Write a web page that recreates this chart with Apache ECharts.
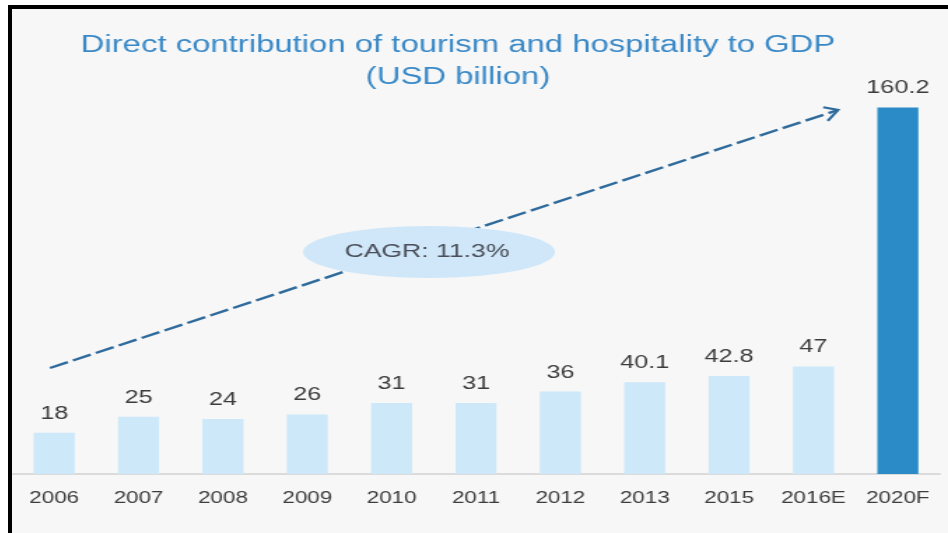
<!DOCTYPE html>
<html>
<head>
<meta charset="utf-8">
<script src="https://cdn.jsdelivr.net/npm/echarts@6/dist/echarts.min.js"></script>
<style>
  html, body { margin: 0; padding: 0; background: #ffffff; overflow: hidden; }
  #frame {
    position: absolute; left: 8px; top: 5px;
    width: 936px; height: 524px;
    border-left: 4px solid #000; border-top: 4px solid #000;
    background: #f7f7f7; overflow: hidden;
  }
  /* the slide artwork uses wide lettering: draw narrower, then widen */
  #chart { width: 669px; height: 524px; transform-origin: 0 0; }
</style>
</head>
<body>
<div id="frame"><div id="chart"></div></div>
<script>
// Direct contribution of tourism and hospitality to GDP, USD billion
var years = ['2006', '2007', '2008', '2009', '2010', '2011', '2012', '2013', '2015', '2016E', '2020F'];
var gdpContribution = [18, 25, 24, 26, 31, 31, 36, 40.1, 42.8, 47, 160.2];
var cagrText = 'CAGR: 11.3%';
var titleLines = ['Direct contribution of tourism and hospitality to GDP', '(USD billion)'];

var LIGHT = '#cce8f9';
var DARK = '#2a8bc6';
var FONT = '"Liberation Sans", Arial, sans-serif';

var FRAME_W = 936;
var CHART_W = 669;
var S = FRAME_W / CHART_W;           // horizontal widening factor
document.getElementById('chart').style.transform = 'scaleX(' + S + ')';

// frame-space x (px from frame's inner left edge) -> chart-space x
function cx(x) { return x / S; }

var chart = echarts.init(document.getElementById('chart'));

var barData = gdpContribution.map(function (v, i) {
  return {
    value: v,
    itemStyle: { color: i === gdpContribution.length - 1 ? DARK : LIGHT }
  };
});

// growth arrow (frame space), dashed shaft plus open head
var a0 = [38, 359], a1 = [826, 101];
var ang = Math.atan2(a1[1] - a0[1], a1[0] - a0[0]);
var headLen = 15, headSpread = 0.5;
var headFrame = [
  [a1[0] - headLen * Math.cos(ang - headSpread), a1[1] - headLen * Math.sin(ang - headSpread)],
  a1,
  [a1[0] - headLen * Math.cos(ang + headSpread), a1[1] - headLen * Math.sin(ang + headSpread)]
];
function toChart(p) { return [cx(p[0]), p[1]]; }

chart.setOption({
  backgroundColor: 'transparent',
  animation: false,
  grid: { left: 0, right: cx(8), top: 76, bottom: 59, containLabel: false },
  xAxis: {
    type: 'category',
    data: years,
    axisLine: { show: true, lineStyle: { color: '#d2d2d2', width: 1.5 } },
    axisTick: { show: false },
    axisLabel: { color: '#3c3c3c', fontSize: 16, fontFamily: FONT, margin: 17, interval: 0 }
  },
  yAxis: {
    type: 'value', min: 0, max: 170, show: false,
    splitLine: { show: false }
  },
  graphic: [
    {
      type: 'text', z: 10,
      x: cx(446), y: 21,
      style: {
        text: titleLines.join('\n'),
        fill: '#3a89c7', font: '23.5px ' + FONT,
        textAlign: 'center', textVerticalAlign: 'top', lineHeight: 32
      }
    },
    {
      type: 'polyline', z: 5,
      shape: { points: [toChart(a0), toChart(a1)] },
      style: { stroke: '#2e6a9b', lineWidth: 2.4, lineDash: [14, 4], fill: null }
    },
    {
      type: 'polyline', z: 5,
      shape: { points: headFrame.map(toChart) },
      style: { stroke: '#2e6a9b', lineWidth: 2.2, fill: null }
    },
    {
      type: 'ellipse', z: 6,
      shape: { cx: cx(417), cy: 243, rx: cx(126), ry: 26 },
      style: { fill: '#cfe7f8' }
    },
    {
      type: 'text', z: 7,
      x: cx(415), y: 243,
      style: {
        text: cagrText, fill: '#4a4e5a', font: '19px ' + FONT,
        textAlign: 'center', textVerticalAlign: 'middle'
      }
    }
  ],
  series: [{
    type: 'bar',
    data: barData,
    barWidth: cx(41),
    label: {
      show: true, position: 'top', distance: 10,
      color: '#3c3c3c', fontSize: 18, fontFamily: FONT
    }
  }]
});
</script>
</body>
</html>
